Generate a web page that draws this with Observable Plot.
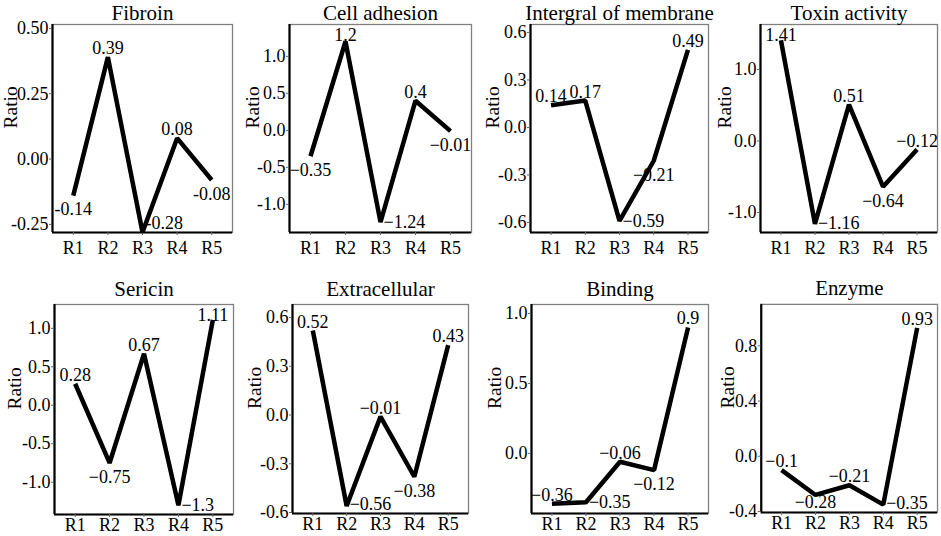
<!DOCTYPE html>
<html><head><meta charset="utf-8">
<script src="https://cdn.jsdelivr.net/npm/d3@7"></script>
<script src="https://cdn.jsdelivr.net/npm/@observablehq/plot@0.6"></script>
<style>
html,body{margin:0;padding:0;background:#fff;overflow:hidden}
#chart{position:relative;width:941px;height:536px;overflow:hidden;background:#fff}
.panel{position:absolute}
.panel svg{overflow:visible}
</style></head><body><div id="chart"></div>
<script>
// ---- data ----
const regions = ["R1", "R2", "R3", "R4", "R5"];
const titles = ["Fibroin", "Cell adhesion", "Intergral of membrane", "Toxin activity",
                "Sericin", "Extracellular", "Binding", "Enzyme"];
const fibroin          = [-0.14, 0.39, -0.28, 0.08, -0.08];
const cellAdhesion     = [-0.35, 1.2, -1.24, 0.4, -0.01];
const integralMembrane = [0.14, 0.17, -0.59, -0.21, 0.49];
const toxinActivity    = [1.41, -1.16, 0.51, -0.64, -0.12];
const sericin          = [0.28, -0.75, 0.67, -1.3, 1.11];
const extracellular    = [0.52, -0.56, -0.01, -0.38, 0.43];
const binding          = [-0.36, -0.35, -0.06, -0.12, 0.9];
const enzyme           = [-0.1, -0.28, -0.21, -0.35, 0.93];

const fibroinTicks  = [-0.25, 0, 0.25, 0.5];
const cellTicks     = [-1, -0.5, 0, 0.5, 1];
const integralTicks = [-0.6, -0.3, 0, 0.3, 0.6];
const toxinTicks    = [-1, 0, 1];
const sericinTicks  = [-1, -0.5, 0, 0.5, 1];
const extraTicks    = [-0.6, -0.3, 0, 0.3, 0.6];
const bindingTicks  = [0, 0.5, 1];
const enzymeTicks   = [-0.4, 0, 0.4, 0.8];

const series = [fibroin, cellAdhesion, integralMembrane, toxinActivity, sericin, extracellular, binding, enzyme];
const tickSets = [fibroinTicks, cellTicks, integralTicks, toxinTicks, sericinTicks, extraTicks, bindingTicks, enzymeTicks];

// ---- layout (positions / scale settings) ----
const layout = [
  {left: 52,  top: 24,  w: 180, h: 208, domain: [-0.281, 0.515], digits: 2, ratioOffset: 49, minus: "-", titleDy: -5, xPad: 6},
  {left: 289, top: 24,  w: 182, h: 208, domain: [-1.38, 1.43],   digits: 1, ratioOffset: 44, minus: "\u2212", titleDy: -5, xPad: 6},
  {left: 530, top: 24,  w: 178, h: 208, domain: [-0.663, 0.65],  digits: 1, ratioOffset: 45, minus: "\u2212", titleDy: -5, xPad: 6},
  {left: 760, top: 24,  w: 177, h: 208, domain: [-1.28, 1.63],   digits: 1, ratioOffset: 43, minus: "\u2212", titleDy: -5, xPad: 6},
  {left: 54,  top: 304, w: 179, h: 210, domain: [-1.42, 1.31],   digits: 1, ratioOffset: 47, minus: "\u2212", titleDy: -9, xPad: 1},
  {left: 292, top: 304, w: 176, h: 209, domain: [-0.606, 0.68],  digits: 1, ratioOffset: 45, minus: "\u2212", titleDy: -9, xPad: 1},
  {left: 531, top: 304, w: 177, h: 209, domain: [-0.43, 1.064],  digits: 1, ratioOffset: 44, minus: "\u2212", titleDy: -9, xPad: 1},
  {left: 761, top: 304, w: 177, h: 209, domain: [-0.407, 1.10],  digits: 1, ratioOffset: 41, minus: "\u2212", titleDy: -9, xPad: 1}
];

const ML = 56, MT = 30, MR = 4, MB = 30;
const chart = document.getElementById("chart");
const FONT = "'Liberation Serif', 'Times New Roman', serif";
const FS = 18;

layout.forEach((L, i) => {
  const vals = series[i];
  const [y0, y1] = L.domain;
  const span = y1 - y0;
  const ppu = L.h / span; // pixels per unit
  const data = vals.map((v, j) => {
    const nb = [vals[j - 1], vals[j + 1]].filter(u => u !== undefined);
    const above = nb.every(u => v >= u - 0.05 * span);
    const pos = above ? "above" : (v - y0 < 0.06 * span ? "right" : "below");
    // keep labels clear of the title and the x axis labels
    let ly = v;
    if (pos === "above") ly = Math.min(v + 3 / ppu, y1 - 16 / ppu);
    if (pos === "right") ly = Math.max(v, y0 + 9 / ppu);
    if (pos === "below") ly = Math.max(v - 7 / ppu, y0 + 17 / ppu);
    return {x: j + 1, v, ly, pos};
  });
  const fmtLabel = d => L.minus === "-" ? String(d.v) : String(d.v).replace("-", "\u2212");
  const plot = Plot.plot({
    width: ML + L.w + MR,
    height: MT + L.h + MB,
    marginLeft: ML, marginTop: MT, marginRight: MR, marginBottom: MB,
    style: {fontFamily: FONT, background: "transparent", overflow: "visible", color: "black"},
    x: {domain: [0.4, 5.6]},
    y: {domain: L.domain},
    marks: [
      Plot.frame({stroke: "#808080", strokeWidth: 1.3}),
      Plot.ruleY([y0], {stroke: "black", strokeWidth: 2.2}),
      Plot.ruleX([0.4], {stroke: "black", strokeWidth: 2.2}),
      Plot.axisY(tickSets[i], {tickSize: 3, tickPadding: 1, tickFormat: d => d.toFixed(L.digits),
        fontSize: FS, stroke: "#666", fill: "black", label: null}),
      Plot.axisX([1, 2, 3, 4, 5], {tickSize: 3, tickPadding: L.xPad, tickFormat: d => regions[d - 1],
        fontSize: FS, stroke: "#666", fill: "black", label: null}),
      Plot.line(data, {x: "x", y: "v", stroke: "black", strokeWidth: 4.5,
        strokeLinejoin: "miter", strokeLinecap: "butt"}),
      Plot.text(data.filter(d => d.pos === "above"), {x: "x", y: "ly", text: fmtLabel,
        lineAnchor: "bottom", fontSize: FS, fill: "black"}),
      Plot.text(data.filter(d => d.pos === "below"), {x: "x", y: "ly", text: fmtLabel,
        lineAnchor: "top", fontSize: FS, fill: "black"}),
      Plot.text(data.filter(d => d.pos === "right"), {x: "x", y: "ly", text: fmtLabel,
        lineAnchor: "middle", textAnchor: "start", dx: 3, fontSize: FS, fill: "black"}),
      Plot.text([titles[i]], {frameAnchor: "top", lineAnchor: "bottom", dy: L.titleDy,
        fontSize: 21, fill: "black"}),
      Plot.text(["Ratio"], {frameAnchor: "left", rotate: -90, dx: -L.ratioOffset,
        lineAnchor: "top", fontSize: 19.5, fill: "black"})
    ]
  });
  const div = document.createElement("div");
  div.className = "panel";
  div.style.left = (L.left - ML) + "px";
  div.style.top = (L.top - MT) + "px";
  div.appendChild(plot);
  chart.appendChild(div);
});
</script>
</body></html>
